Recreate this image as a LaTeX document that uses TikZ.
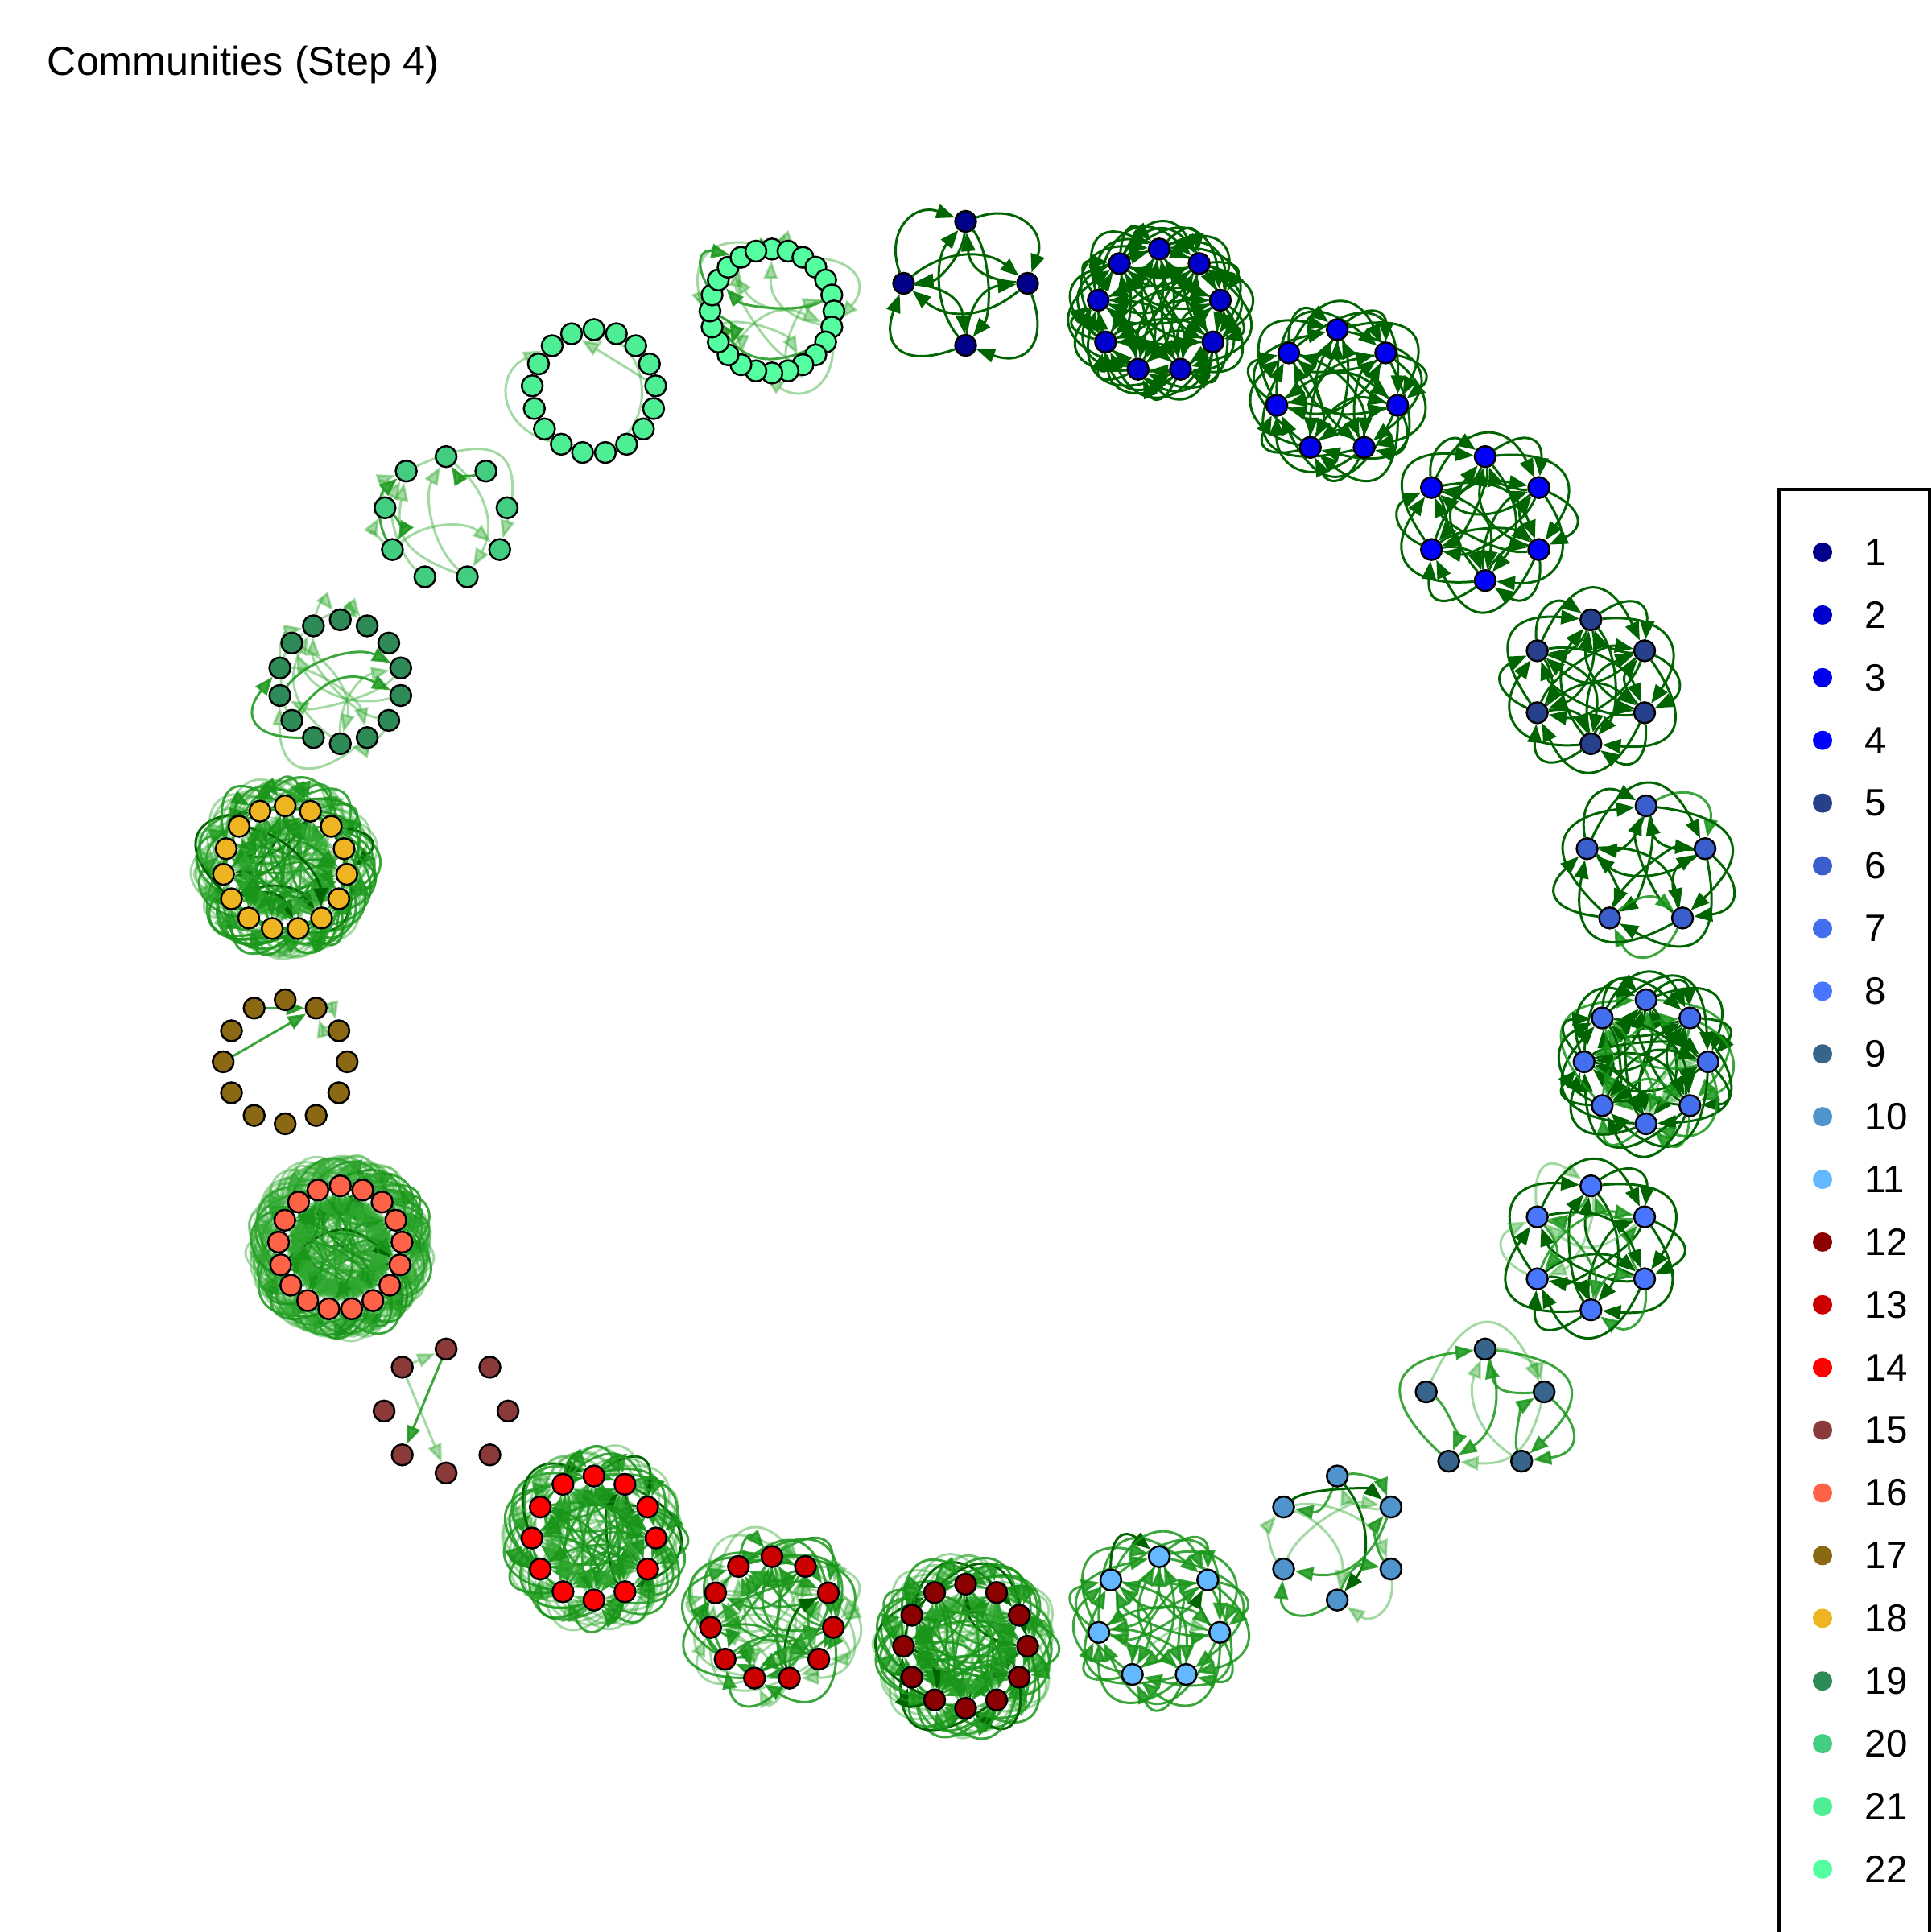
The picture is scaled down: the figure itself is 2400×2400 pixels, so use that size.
\documentclass[tikz,border=0pt]{standalone}
\usepackage{fontspec}
\setmainfont{Liberation Sans}
\usetikzlibrary{arrows.meta}
\pgfdeclarelayer{edges}
\pgfsetlayers{edges,main}
\definecolor{k1}{HTML}{00008B}
\definecolor{k2}{HTML}{0000CD}
\definecolor{k3}{HTML}{0000EE}
\definecolor{k4}{HTML}{0000FF}
\definecolor{k5}{HTML}{27408B}
\definecolor{k6}{HTML}{3A5FCD}
\definecolor{k7}{HTML}{436EEE}
\definecolor{k8}{HTML}{4876FF}
\definecolor{k9}{HTML}{36648B}
\definecolor{k10}{HTML}{4F94CD}
\definecolor{k11}{HTML}{63B8FF}
\definecolor{k12}{HTML}{8B0000}
\definecolor{k13}{HTML}{CD0000}
\definecolor{k14}{HTML}{FF0000}
\definecolor{k15}{HTML}{8B3A3A}
\definecolor{k16}{HTML}{FF6347}
\definecolor{k17}{HTML}{8B6914}
\definecolor{k18}{HTML}{EEB422}
\definecolor{k19}{HTML}{2E8B57}
\definecolor{k20}{HTML}{43CD80}
\definecolor{k21}{HTML}{4EEE94}
\definecolor{k22}{HTML}{54FF9F}
\definecolor{edark}{RGB}{0,100,0}
\definecolor{emid}{RGB}{25,150,25}
\definecolor{elight}{RGB}{50,170,50}
\tikzset{
  vtx/.style={circle, draw=black, line width=0.7pt, inner sep=0pt, minimum size=0.26cm},
  lnk/.style={line width=0.85pt, -{Triangle[length=6.5pt,width=5pt]}},
  ldark/.style={lnk, draw=edark},
  lmid/.style={lnk, draw=emid, opacity=0.85},
  llight/.style={lnk, draw=elight, opacity=0.45},
  legdot/.style={circle, inner sep=0pt, minimum size=0.24cm},
  legtxt/.style={anchor=west, inner sep=0pt, font=\fontsize{13.5}{16}\selectfont},
}
\begin{document}
\begin{tikzpicture}[x=0.01cm, y=-0.01cm]
\useasboundingbox (0,0) rectangle (2400,2400);
\node[anchor=west, inner sep=0pt, font=\fontsize{14.3}{17}\selectfont] (title) at (58,80) {Communities (Step 4)};
% community vertices
\foreach \ck/\nn in {1/4,2/9,3/7,4/6,5/6,6/5,7/8,8/6,9/5,10/6,11/7,12/12,13/11,14/12,15/8,16/17,17/12,18/15,19/14,20/9,21/17,22/24} {
  \pgfmathsetmacro\ang{90-(\ck-1)*360/22}
  \pgfmathsetmacro\cx{1199.5+854*cos(\ang)}
  \pgfmathsetmacro\cy{1198.5-846.5*sin(\ang)}
  \foreach \vi in {1,...,\nn} {
    \pgfmathsetmacro\aa{90-(\vi-1)*360/\nn}
    \node[vtx, fill=k\ck] (c\ck n\vi) at ({\cx+77*cos(\aa)},{\cy-77*sin(\aa)}) {};
  }
}
% edges
\begin{pgfonlayer}{edges}
\pgfmathsetseed{4242}
\foreach \ck/\nn/\pe/\pdk/\pmd/\pq in {1/4/1/1/0/1, 2/9/1/1/0/1, 3/7/1/1/0/1, 4/6/1/1/0/1, 5/6/1/1/0/1, 6/5/1/0.92/0.08/1, 7/8/1/0.75/0.2/1, 8/6/1/0.55/0.3/1, 9/5/0.5/0.1/0.5/0.8, 10/6/0.6/0.1/0.3/0.7, 11/7/1/0.08/0.85/1, 12/12/1/0.05/0.6/1, 13/11/0.6/0.05/0.5/0.8, 14/12/1/0.06/0.5/1, 16/17/1/0.02/0.25/1, 18/15/0.8/0.04/0.35/1, 19/14/0.13/0/0.25/0.15, 20/9/0.2/0/0.35/0.3, 22/24/0.05/0/0.2/0.35} {
  \foreach \vi in {1,...,\nn} {
    \foreach \vj in {1,...,\nn} {
      \ifnum\vi=\vj\relax\else
        \pgfmathsetmacro\ra{rnd}
        \ifdim\ra pt<\pe pt
          \pgfmathsetmacro\rb{rnd}
          \pgfmathsetmacro\lim{\pdk+\pmd}
          \ifdim\rb pt<\pdk pt
            \def\ecol{edark}\def\eop{1}%
          \else
            \ifdim\rb pt<\lim pt
              \def\ecol{emid}\def\eop{0.85}%
            \else
              \def\ecol{elight}\def\eop{0.45}%
            \fi
          \fi
          \pgfmathtruncatemacro\dd{mod(\vj-\vi+\nn,\nn)}
          \pgfmathsetmacro\rq{rnd}
          \ifdim\rq pt<\pq pt
            \def\wide{1}%
          \else
            \def\wide{0}%
          \fi
          \ifnum\numexpr2*\dd\relax<\nn\relax\else\def\wide{0}\fi
          \ifnum\wide=1
            \pgfmathsetmacro\cc{154*sin(180*\dd/\nn)}
            \pgfmathsetmacro\mm{77*cos(180*\dd/\nn)}
            \pgfmathsetmacro\lo{min(2.0,(96+14*rnd-\mm)/\cc/0.266)}
            \def\bang{65}%
          \else
            \pgfmathsetmacro\lo{(0.1+0.16*rnd)/0.189}
            \def\bang{40}%
          \fi
          \draw[lnk, draw=\ecol, opacity=\eop] (c\ck n\vi) to[bend left=\bang, looseness=\lo] (c\ck n\vj);
        \fi
      \fi
    }
  }
}
\draw[llight] (c15n8) -- (c15n1);
\draw[lmid] (c15n1) -- (c15n6);
\draw[llight] (c15n8) -- (c15n5);
\draw[lmid] (c17n12) -- (c17n2);
\draw[lmid] (c17n10) -- (c17n2);
\draw[llight] (c17n2) to[bend left=30] (c17n3);
\draw[llight] (c17n3) to[bend left=30] (c17n2);
\draw[llight] (c21n5) -- (c21n17);
\draw[llight] (c21n11) to[bend left=70, looseness=1.5] (c21n16);
\draw[llight] (c21n9) to[bend right=70, looseness=1.3] (c21n17);
\end{pgfonlayer}
% legend
\draw[line width=0.9pt] (2210,2460) |- (2397,608) -- (2397,2460);
\foreach \vi in {1,...,22} {
  \pgfmathsetmacro\ly{686+77.9*(\vi-1)}
  \node[legdot, fill=k\vi] (ld\vi) at (2264,\ly) {};
  \node[legtxt] (lt\vi) at (2316,\ly) {\vi};
}
\end{tikzpicture}
\end{document}
